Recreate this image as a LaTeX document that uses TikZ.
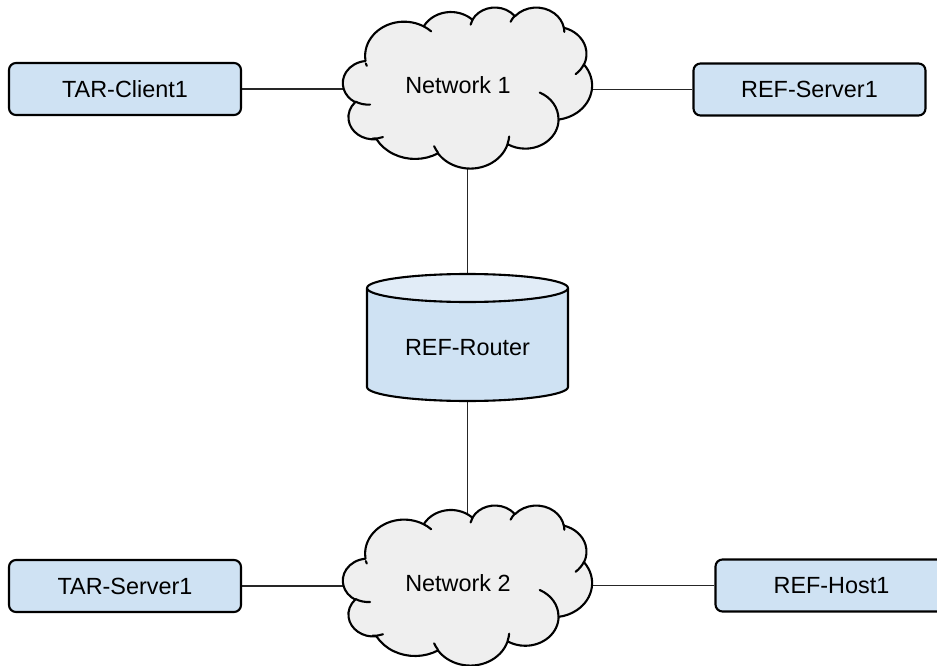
\documentclass[tikz,border=0pt]{standalone}
\usepackage{fontspec}
\setmainfont{Liberation Sans}
\pgfdeclarelayer{bg}
\pgfdeclarelayer{mid}
\pgfsetlayers{bg,mid,main}
\definecolor{boxblue}{HTML}{CFE2F3}
\definecolor{toplight}{HTML}{E1ECF7}
\definecolor{cloudgray}{HTML}{EFEFEF}
\newcommand\cloudang[5]{%
  \pgfmathsetmacro\cAt{atan2((#2)*sin(#4),(#3)*cos(#4))}%
  \pgfmathsetmacro\cAe{atan2((#2)*sin(#4+#5),(#3)*cos(#4+#5))}%
  \pgfmathsetmacro\cAd{mod(\cAe-\cAt+720,360)}%
  \pgfmathsetmacro\cAd{(#5>0)?\cAd:\cAd-360}%
  \expandafter\xdef\csname cloudS#1\endcsname{\cAt}%
  \expandafter\xdef\csname cloudD#1\endcsname{\cAd}%
}
\tikzset{
  hostbox/.style={draw, line width=2.1pt, rounded corners=7pt, fill=boxblue,
    minimum width=232pt, minimum height=52pt, inner sep=0pt},
  txt/.style={font=\fontsize{23.4pt}{28pt}\selectfont},
  conn/.style={line width=1.2pt, draw=black!85},
  shapeline/.style={line width=2.1pt, line join=round},
  cloudnode/.style={minimum width=249pt, inner sep=0pt, text height=17pt, text depth=5pt},
}
\begin{document}
\begin{tikzpicture}[x=1pt, y=-1pt]
\useasboundingbox (0,0) rectangle (937,666);
% outline arcs
\cloudang{A}{15.632}{21.273}{-190.4875}{123.7805}
\cloudang{B}{12.345}{16.822}{-144.1024}{89.9452}
\cloudang{C}{10.104}{13.762}{-145.8079}{99.7230}
\cloudang{D}{11.243}{15.266}{-130.9861}{117.2417}
\cloudang{E}{12.345}{16.836}{-78.7089}{109.0269}
\cloudang{F}{15.683}{21.343}{-46.2673}{130.2690}
\cloudang{G}{13.391}{18.211}{0.6250}{114.0333}
\cloudang{H}{15.630}{21.331}{22.4516}{115.1726}
\cloudang{I}{17.870}{24.405}{66.2426}{75.7110}
\cloudang{J}{10.093}{13.699}{-274.9421}{146.7356}
\cloudang{K}{10.058}{13.762}{-246.8285}{152.5189}
% inner detail arcs
\cloudang{a}{10.058}{13.762}{86.742}{26.4295}
\cloudang{b}{10.093}{13.699}{73.6105}{18.42}
\cloudang{c}{15.630}{21.331}{137.6242}{14.0811}
\cloudang{d}{15.630}{21.331}{6.4533}{15.9984}
\cloudang{e}{13.391}{18.211}{-70.2924}{70.9174}
\cloudang{f}{12.345}{16.836}{30.318}{27.7515}
\cloudang{g}{11.243}{15.266}{-13.7443}{14.8589}
\cloudang{h}{11.243}{15.266}{-149.1815}{18.1954}
\cloudang{i}{10.104}{13.762}{-163.4943}{17.6864}
\cloudang{j}{15.632}{21.273}{-66.7070}{12.3194}
\cloudang{k}{15.632}{21.273}{151.8355}{5.3326}

% nodes
\node[hostbox, txt] (client) at (125,89) {TAR-Client1};
\node[hostbox, txt] (server1) at (809.5,89.5) {REF-Server1};
\node[hostbox, txt] (tarserver) at (125,586) {TAR-Server1};
\node[hostbox, txt] (host) at (831.5,585.5) {REF-Host1};
\node[cloudnode, txt, minimum height=161pt] (net1) at (467.5,87.5) {\hspace*{-19pt}Network 1};
\node[cloudnode, txt, minimum height=160pt] (net2) at (467.5,585) {\hspace*{-19pt}Network 2};
\node[txt, minimum width=203pt, minimum height=129pt, inner sep=0pt, text height=36.8pt, text depth=0pt] (router) at (467.5,337.5) {REF-Router};

% connectors
\begin{pgfonlayer}{bg}
\draw[conn] (client.east) -- (client.east -| net1.center);
\draw[conn] (server1.west) -- (server1.west -| net1.center);
\draw[conn] (net1.center) -- (router.north);
\draw[conn] (router.south) -- (net2.center);
\draw[conn] (tarserver.east) -- (tarserver.east -| net2.center);
\draw[conn] (host.west) -- (host.west -| net2.center);
\end{pgfonlayer}

% clouds and cylinder
\begin{pgfonlayer}{mid}
\foreach \cy/\cyv in {7/-1.61pt,505/-1.60pt}{
\begin{scope}[shift={(343,\cy)}, x=2.49pt, y=\cyv]
\filldraw[shapeline, fill=cloudgray] (9.028,33.264)
  arc[start angle=\cloudSA, delta angle=\cloudDA, x radius=15.632, y radius=21.273]
  arc[start angle=\cloudSB, delta angle=\cloudDB, x radius=12.345, y radius=16.822]
  arc[start angle=\cloudSC, delta angle=\cloudDC, x radius=10.104, y radius=13.762]
  arc[start angle=\cloudSD, delta angle=\cloudDD, x radius=11.243, y radius=15.266]
  arc[start angle=\cloudSE, delta angle=\cloudDE, x radius=12.345, y radius=16.836]
  arc[start angle=\cloudSF, delta angle=\cloudDF, x radius=15.683, y radius=21.343]
  arc[start angle=\cloudSG, delta angle=\cloudDG, x radius=13.391, y radius=18.211]
  arc[start angle=\cloudSH, delta angle=\cloudDH, x radius=15.630, y radius=21.331]
  arc[start angle=\cloudSI, delta angle=\cloudDI, x radius=17.870, y radius=24.405]
  arc[start angle=\cloudSJ, delta angle=\cloudDJ, x radius=10.093, y radius=13.699]
  arc[start angle=\cloudSK, delta angle=\cloudDK, x radius=10.058, y radius=13.762]
  -- cycle;
\draw[shapeline, line cap=round]
  (10.863,60.595) arc[start angle=\cloudSa, delta angle=\cloudDa, x radius=10.058, y radius=13.762]
  (16.037,80.785) arc[start angle=\cloudSb, delta angle=\cloudDb, x radius=10.093, y radius=13.699]
  (38.144,90.486) arc[start angle=\cloudSc, delta angle=\cloudDc, x radius=15.630, y radius=21.331]
  (66.729,80.442) arc[start angle=\cloudSd, delta angle=\cloudDd, x radius=15.630, y radius=21.331]
  (79.002,53.134) arc[start angle=\cloudSe, delta angle=\cloudDe, x radius=13.391, y radius=18.211]
  (96.755,35.542) arc[start angle=\cloudSf, delta angle=\cloudDf, x radius=12.345, y radius=16.836]
  (88.713,12.560) arc[start angle=\cloudSg, delta angle=\cloudDg, x radius=11.243, y radius=15.266]
  (67.310,9.148) arc[start angle=\cloudSh, delta angle=\cloudDh, x radius=11.243, y radius=15.266]
  (51.252,10.926) arc[start angle=\cloudSi, delta angle=\cloudDi, x radius=10.104, y radius=13.762]
  (32.407,12.019) arc[start angle=\cloudSj, delta angle=\cloudDj, x radius=15.632, y radius=21.273]
  (9.553,36.549) arc[start angle=\cloudSk, delta angle=\cloudDk, x radius=15.632, y radius=21.273];
\end{scope}
}
\filldraw[shapeline, fill=boxblue] (367,288) -- (367,387)
  arc[start angle=180, end angle=360, x radius=100.5pt, y radius=14pt] -- (568,288) -- cycle;
\filldraw[shapeline, fill=toplight] (467.5,288) ellipse [x radius=100.5pt, y radius=14pt];
\end{pgfonlayer}
\end{tikzpicture}
\end{document}
